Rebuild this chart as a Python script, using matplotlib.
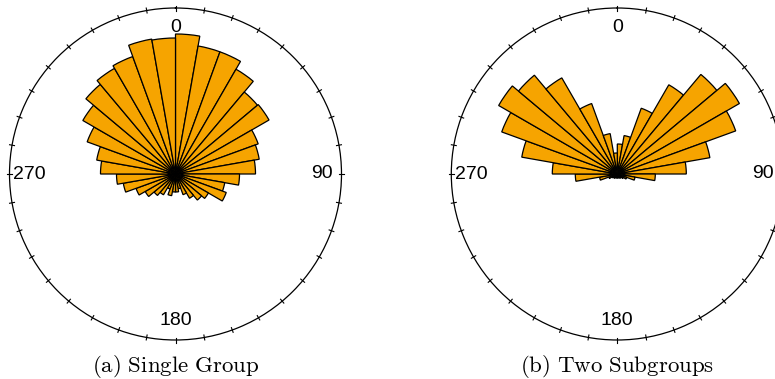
import numpy as np
import matplotlib
matplotlib.use("Agg")
import matplotlib.pyplot as plt

plt.rcParams['mathtext.fontset'] = 'cm'

# 10 degree bins, clockwise from north
bin_starts = np.arange(0, 360, 10)

single_group = [140, 130, 130, 121, 107, 108, 88, 85, 80, 64, 50, 54,
                38, 34, 28, 22, 15, 18, 18, 22, 16, 24, 28, 35,
                42, 53, 59, 75, 80, 94, 107, 117, 122, 125, 137, 136]

two_subgroups = [30, 39, 70, 103, 130, 141, 126, 94, 69, 38, 18, 10,
                 7, 5, 5, 4, 4, 4, 4, 4, 4, 5, 5, 6,
                 9, 18, 42, 65, 97, 123, 137, 129, 111, 75, 41, 21]

panel_titles = [r'$\mathrm{(a)\ Single\ Group}$', r'$\mathrm{(b)\ Two\ Subgroups}$']
dir_labels = ['0', '90', '180', '270']
r_max = 166

fig = plt.figure(figsize=(7.75, 3.79), dpi=100)

centers_x = [175.5, 617.3]
for i, counts in enumerate([single_group, two_subgroups]):
    cx = centers_x[i]
    ax = fig.add_axes([(cx - 166) / 775, 39 / 379, 332 / 775, 332 / 379],
                      projection='polar')
    ax.set_theta_zero_location('N')
    ax.set_theta_direction(-1)
    ax.bar(np.deg2rad(bin_starts), counts, width=np.deg2rad(10), align='edge',
           color='#F6A400', edgecolor='black', linewidth=0.9)
    ax.set_ylim(0, r_max)
    ax.set_yticks([])
    ax.set_xticks([])
    ax.grid(False)
    ax.spines['polar'].set_linewidth(0.9)
    # tick marks crossing the rim every 10 degrees
    for ang in bin_starts:
        t = np.deg2rad(ang)
        ax.plot([t, t], [r_max - 2.5, r_max + 2.5], color='black', lw=0.8,
                clip_on=False)
    for ang, lab in zip([0, 90, 180, 270], dir_labels):
        ax.text(np.deg2rad(ang), 0.88 * r_max, lab, ha='center', va='center',
                fontsize=14, family='Liberation Sans')
    fig.text(cx / 775, 1 - 366 / 379, panel_titles[i], ha='center', va='center',
             fontsize=16.5)

fig.savefig('out.png', dpi=100)
